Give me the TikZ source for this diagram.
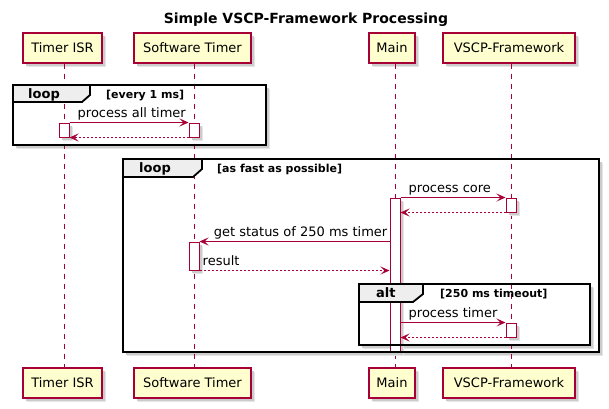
\documentclass[tikz,border=0pt]{standalone}
\usepackage{fontspec}
\setmainfont{DejaVu Sans}
\usetikzlibrary{arrows.meta}
\definecolor{pred}{HTML}{A80036}
\definecolor{pfill}{HTML}{FEFECE}
\definecolor{tabfill}{HTML}{EEEEEE}
\begin{document}
\begin{tikzpicture}[x=1pt,y=-1pt,
  shadowed/.style={preaction={fill=black!10, transform canvas={shift={(4pt,-4pt)}}},
                   preaction={fill=black!20, transform canvas={shift={(2.5pt,-2.5pt)}}}},
  part/.style={draw=pred, line width=1.4pt, fill=pfill, minimum height=30pt, inner sep=0pt,
               font=\fontsize{13}{15}\selectfont, shadowed},
  act/.style={draw=pred, line width=1pt, fill=white, minimum width=10pt, inner sep=0pt, shadowed},
  life/.style={draw=pred, line width=1pt, dash pattern=on 5pt off 5pt},
  msg/.style={draw=pred, line width=1pt, -{Stealth[length=9pt,width=8pt,inset=4pt]}},
  ret/.style={msg, dash pattern=on 2pt off 2pt},
  lbl/.style={font=\fontsize{13}{15}\selectfont, inner sep=0pt},
  frame/.style={draw=black, line width=1.8pt},
  flbl/.style={font=\bfseries\fontsize{13}{15}\selectfont, inner sep=0pt, anchor=base west},
  cond/.style={font=\bfseries\fontsize{11}{13}\selectfont, inner sep=0pt, anchor=base west}
]
\useasboundingbox (0,0) rectangle (609,408);

% title
\node[font=\bfseries\fontsize{14}{16}\selectfont, anchor=base, inner sep=0pt] (title) at (306,23) {Simple VSCP-Framework Processing};

% frame backgrounds with shadows
\fill[white, shadowed] (13,85) rectangle (266,145);
\fill[white, shadowed] (123,159) rectangle (599,352);
\fill[white, shadowed] (359,284) rectangle (590,345);

% participants
\node[part, minimum width=79pt] (isrT) at (62.5,48) {Timer ISR};
\node[part, minimum width=117pt] (swT) at (192.5,48) {Software Timer};
\node[part, minimum width=46pt] (mainT) at (392,48) {Main};
\node[part, minimum width=132pt] (vT) at (509,48) {VSCP-Framework};
\node[part, minimum width=79pt] (isrB) at (62.5,383) {Timer ISR};
\node[part, minimum width=117pt] (swB) at (192.5,383) {Software Timer};
\node[part, minimum width=46pt] (mainB) at (392,383) {Main};
\node[part, minimum width=132pt] (vB) at (509,383) {VSCP-Framework};

% lifelines
\draw[life] ([xshift=1.5pt]isrT.south) -- ([xshift=1.5pt]isrB.north);
\draw[life] ([xshift=1.5pt]swT.south) -- ([xshift=1.5pt]swB.north);
\draw[life] ([xshift=3pt]mainT.south) -- ([xshift=3pt]mainB.north);
\draw[life] ([xshift=2pt]vT.south) -- ([xshift=2pt]vB.north);

% activations
\node[act, minimum height=14pt] (isrA) at (64,130) {};
\node[act, minimum height=14pt] (swA1) at (194,130) {};
\node[act, minimum height=154pt] (mainA) at (395,275) {};
\node[act, minimum height=14pt] (vA1) at (511,205) {};
\node[act, minimum height=28pt] (swA2) at (194,256) {};
\node[act, minimum height=14pt] (vA2) at (511,330) {};

% loop 1 messages
\draw[msg] (isrA.north east) -- (swA1.north west);
\node[lbl, anchor=base west, xshift=8pt, yshift=5pt] (m1) at (isrA.north east) {process all timer};
\draw[ret] (swA1.south west) -- (isrA.south east);

% loop 2 messages
\draw[msg] (mainA.north east) -- (vA1.north west);
\node[lbl, anchor=base west, xshift=8pt, yshift=5pt] (m2) at (mainA.north east) {process core};
\draw[ret] (vA1.south west) -- (mainA.east |- vA1.south west);

\draw[msg] (mainA.west |- swA2.north east) -- (swA2.north east);
\node[lbl, anchor=base east, xshift=-2pt, yshift=5pt] (m3) at (mainA.west |- swA2.north east) {get status of 250 ms timer};
\draw[ret] (swA2.south east) -- (mainA.west |- swA2.south east);
\node[lbl, anchor=base west, xshift=3pt, yshift=5pt] (m4) at (swA2.south east) {result};

\draw[msg] (mainA.east |- vA2.north west) -- (vA2.north west);
\node[lbl, anchor=base west, xshift=8pt, yshift=5pt] (m5) at (mainA.east |- vA2.north west) {process timer};
\draw[ret] (vA2.south west) -- (mainA.east |- vA2.south west);

% frames
\draw[frame] (13,85) rectangle (266,145);
\draw[frame, fill=tabfill] (13,85) -- (90,85) -- (90,95) -- (82,102) -- (13,102) -- cycle;
\node[flbl] (f1) at (28,98.5) {loop};
\node[cond] (c1) at (106,98.5) {[every 1 ms]};

\draw[frame] (123,159) rectangle (599,352);
\draw[frame, fill=tabfill] (123,159) -- (202,159) -- (202,169) -- (193,177) -- (123,177) -- cycle;
\node[flbl] (f2) at (139,172.5) {loop};
\node[cond] (c2) at (217,172.5) {[as fast as possible]};

\draw[frame] (359,284) rectangle (590,345);
\draw[frame, fill=tabfill] (359,284) -- (423,284) -- (423,294) -- (413,302) -- (359,302) -- cycle;
\node[flbl] (f3) at (376,297.5) {alt};
\node[cond] (c3) at (440,297.5) {[250 ms timeout]};
\end{tikzpicture}
\end{document}
